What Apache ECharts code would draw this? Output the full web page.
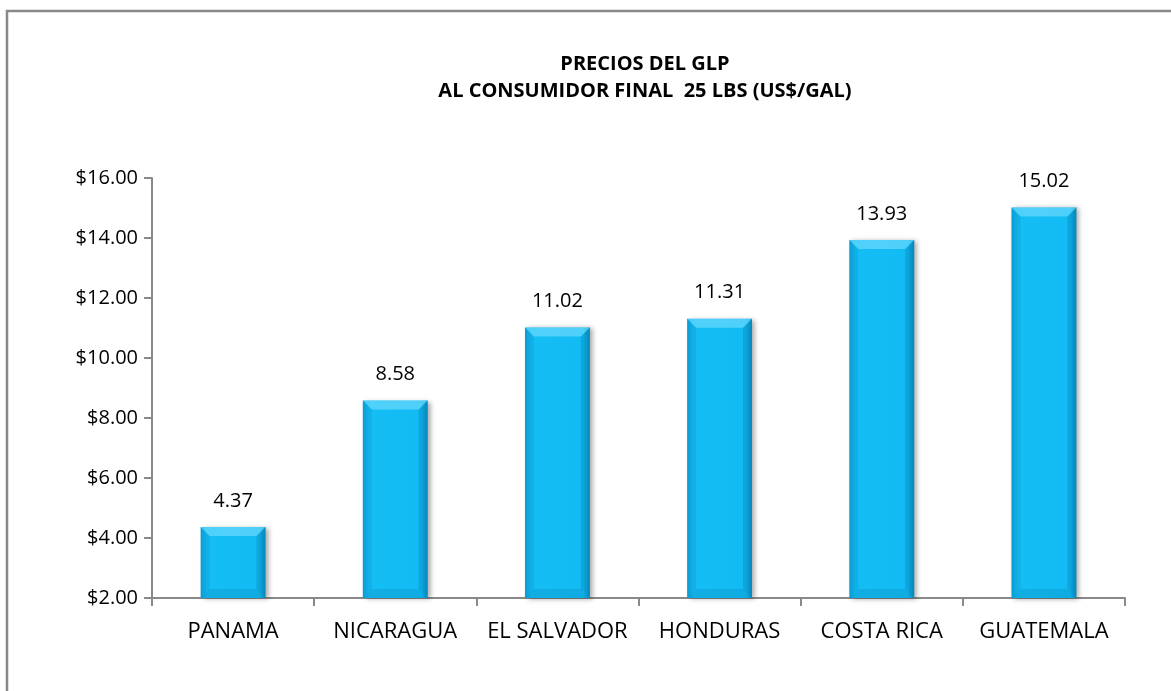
<!DOCTYPE html>
<html>
<head>
<meta charset="utf-8">
<script src="https://cdn.jsdelivr.net/npm/echarts@6/dist/echarts.min.js"></script>
<style>html,body{margin:0;padding:0;background:#fff;}#c{width:1171px;height:691px;}</style>
</head>
<body>
<div id="c"></div>
<script>
const categories = ['PANAMA', 'NICARAGUA', 'EL SALVADOR', 'HONDURAS', 'COSTA RICA', 'GUATEMALA'];
const prices = [4.37, 8.58, 11.02, 11.31, 13.93, 15.02];
const titleLines = ['PRECIOS DEL GLP', 'AL CONSUMIDOR FINAL  25 LBS (US$/GAL)'];
const yMin = 2, yMax = 16, yStep = 2;

const FONT = 'Open Sans';
const chart = echarts.init(document.getElementById('c'));
const BAR_FRAC = 0.4;
chart.setOption({
  animation: false,
  backgroundColor: '#fff',
  title: {
    text: titleLines.join('\n'),
    left: 640, top: 46, textAlign: 'center',
    textStyle: { fontFamily: FONT, fontWeight: 'bold', fontSize: 20, lineHeight: 27, color: '#000' }
  },
  graphic: [{
    type: 'rect', silent: true, z: -1,
    shape: { x: 7, y: 11, width: 1200, height: 720 },
    style: { fill: 'none', stroke: '#898989', lineWidth: 2.5 }
  }],
  grid: { left: 152, right: 46, top: 178, bottom: 93 },
  xAxis: {
    type: 'category', data: categories,
    axisLine: { lineStyle: { color: '#898989', width: 2 } },
    axisTick: { show: true, interval: 0, length: 8, lineStyle: { color: '#898989', width: 2 } },
    axisLabel: { interval: 0, margin: 23, fontFamily: FONT, fontSize: 22, color: '#000' }
  },
  yAxis: {
    type: 'value', min: yMin, max: yMax, interval: yStep,
    splitLine: { show: false },
    axisLine: { show: true, lineStyle: { color: '#898989', width: 2 } },
    axisTick: { show: true, length: 8, lineStyle: { color: '#898989', width: 2 } },
    axisLabel: { margin: 14, fontFamily: FONT, fontSize: 20, color: '#000',
      formatter: v => '$' + v.toFixed(2) }
  },
  series: [{
    type: 'bar', data: prices, barWidth: '40%',
    itemStyle: {
      color: new echarts.graphic.LinearGradient(0, 0, 1, 0, [
        { offset: 0, color: '#0AA6DD' }, { offset: 0.1, color: '#14BDF4' },
        { offset: 0.9, color: '#12BBF3' }, { offset: 1, color: '#0894C8' }
      ]),
      shadowColor: 'rgba(0,0,0,0.35)', shadowBlur: 5, shadowOffsetX: 3, shadowOffsetY: 1
    },
    label: { show: true, position: 'top', distance: 16, fontFamily: FONT, fontSize: 20, color: '#000',
      formatter: p => p.value.toFixed(2) }
  }, {
    type: 'custom', data: prices.map((v, i) => [i, v]), z: 3, silent: true,
    renderItem: function (params, api) {
      const i = api.value(0), v = api.value(1);
      const top = api.coord([i, v]);
      const base = api.coord([i, yMin]);
      const w = api.size([1, 0])[0] * BAR_FRAC;
      const x0 = top[0] - w / 2, x1 = top[0] + w / 2, y0 = top[1], y1 = base[1];
      const b = 9;
      return { type: 'group', children: [
        { type: 'polygon', shape: { points: [[x0, y0], [x1, y0], [x1 - b, y0 + b], [x0 + b, y0 + b]] },
          style: { fill: 'rgba(130,225,255,0.55)' } },
        { type: 'polygon', shape: { points: [[x1, y0], [x1, y1], [x1 - b, y1 - b], [x1 - b, y0 + b]] },
          style: { fill: 'rgba(0,90,140,0.22)' } },
        { type: 'polygon', shape: { points: [[x0, y1], [x1, y1], [x1 - b, y1 - b], [x0 + b, y1 - b]] },
          style: { fill: 'rgba(0,90,140,0.15)' } },
        { type: 'polygon', shape: { points: [[x0, y0], [x0 + b, y0 + b], [x0 + b, y1 - b], [x0, y1]] },
          style: { fill: 'rgba(0,80,130,0.10)' } }
      ]};
    }
  }]
});
</script>
</body>
</html>
